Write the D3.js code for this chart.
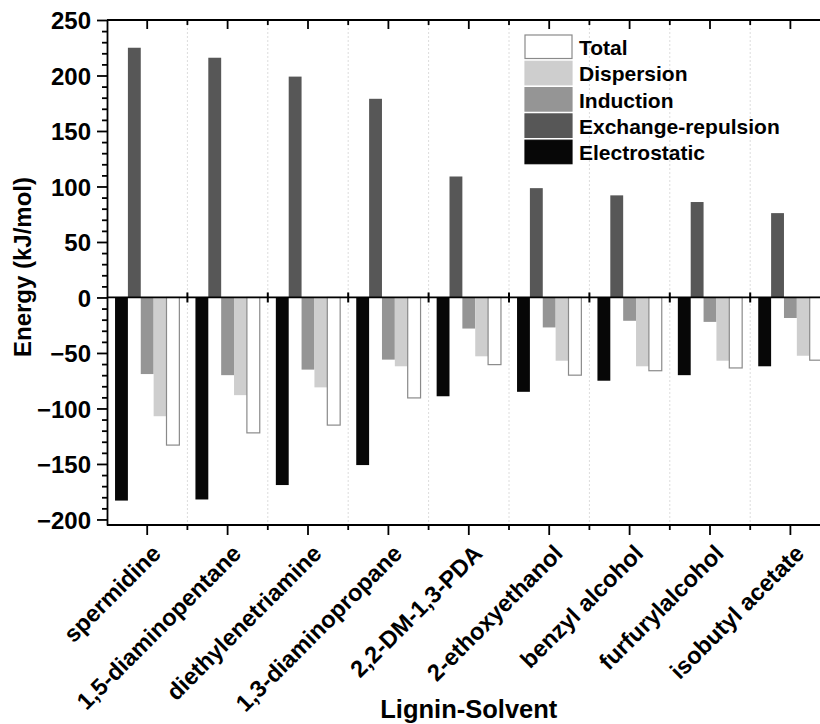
<!DOCTYPE html>
<html>
<head>
<meta charset="utf-8">
<script src="https://cdn.jsdelivr.net/npm/d3@7"></script>
<style>
  html, body { margin: 0; padding: 0; background: #fff; }
  svg { display: block; }
  text { font-family: Arial, "Liberation Sans", sans-serif; font-weight: bold; fill: #000; }
</style>
</head>
<body>
<svg id="chart" width="820" height="724"></svg>
<script>
// Lignin–solvent interaction energy decomposition (kJ/mol)
const solvents = ["spermidine", "1,5-diaminopentane", "diethylenetriamine", "1,3-diaminopropane",
  "2,2-DM-1,3-PDA", "2-ethoxyethanol", "benzyl alcohol", "furfurylalcohol", "isobutyl acetate"];

const electrostatic = [-183, -182, -169, -151, -89, -85, -75, -70, -62];
const exchangeRepulsion = [225, 216, 199, 179, 109, 98.5, 92, 86, 76];
const induction = [-69, -70, -65, -56, -28, -27, -21, -22, -18.5];
const dispersion = [-107, -88, -81, -62, -53, -57, -62, -57, -52.5];
const total = [-133, -122, -115, -90.5, -60.5, -70, -66, -63.5, -56.5];

const seriesNames = ["Electrostatic", "Exchange-repulsion", "Induction", "Dispersion", "Total"];
const seriesValues = [electrostatic, exchangeRepulsion, induction, dispersion, total];
const legendOrder = ["Total", "Dispersion", "Induction", "Exchange-repulsion", "Electrostatic"];

const yMajorTicks = [-200, -150, -100, -50, 0, 50, 100, 150, 200, 250];
const yMinorTicks = d3.range(-200, 251, 10).filter(v => v % 50 !== 0);

const fills = {
  "Electrostatic": "#070707",
  "Exchange-repulsion": "#575757",
  "Induction": "#959595",
  "Dispersion": "#cecece",
  "Total": "#ffffff"
};

const svg = d3.select("#chart");
const plotLeft = 107, plotTop = 20, plotBottom = 525;
const plotRight = plotLeft + 80.4 * solvents.length;

const x = d3.scaleBand().domain(solvents).range([plotLeft, plotRight]).paddingInner(0.2).paddingOuter(0.1);
const xs = d3.scaleBand().domain(seriesNames).range([0, x.bandwidth()]);
const y = d3.scaleLinear().domain([-205, 250]).range([plotBottom, plotTop]);
const step = x.step();
const centers = solvents.map(s => x(s) + x.bandwidth() / 2);
const bounds = d3.range(1, solvents.length).map(i => plotLeft + step * i);

// dotted vertical grid at category boundaries
svg.append("g").selectAll("line").data(bounds).join("line")
  .attr("x1", d => d).attr("x2", d => d)
  .attr("y1", plotTop).attr("y2", plotBottom)
  .attr("stroke", "#dcdcdc").attr("stroke-width", 1).attr("stroke-dasharray", "2,2");

// bars
const rows = [];
solvents.forEach((s, i) => seriesNames.forEach((n, j) => rows.push({ s, n, v: seriesValues[j][i] })));
svg.append("g").selectAll("rect").data(rows).join("rect")
  .attr("x", d => x(d.s) + xs(d.n))
  .attr("width", xs.bandwidth())
  .attr("y", d => y(Math.max(0, d.v)))
  .attr("height", d => Math.abs(y(d.v) - y(0)))
  .attr("fill", d => fills[d.n])
  .attr("stroke", d => d.n === "Total" ? "#8a8a8a" : "none")
  .attr("stroke-width", 1.2);

// zero line with boundary ticks
svg.append("line").attr("x1", plotLeft).attr("x2", plotRight).attr("y1", y(0)).attr("y2", y(0))
  .attr("stroke", "#000").attr("stroke-width", 1.8);
svg.append("g").selectAll("line").data(bounds).join("line")
  .attr("x1", d => d).attr("x2", d => d)
  .attr("y1", y(0) - 5).attr("y2", y(0) + 5)
  .attr("stroke", "#000").attr("stroke-width", 2);

// left axis
const yAxis = svg.append("g").attr("transform", `translate(${plotLeft},0)`)
  .call(d3.axisLeft(y).tickValues(yMajorTicks).tickSize(10).tickPadding(6).tickSizeOuter(0));
yAxis.selectAll("text").style("font-size", "24px").attr("dy", "0.36em");
svg.append("g").attr("transform", `translate(${plotLeft},0)`)
  .call(d3.axisLeft(y).tickValues(yMinorTicks).tickSize(5).tickFormat("").tickSizeOuter(0))
  .select(".domain").remove();

// bottom axis
const bx = svg.append("g").attr("transform", `translate(0,${plotBottom})`);
bx.append("line").attr("x1", plotLeft).attr("x2", plotRight).attr("stroke", "#000").attr("stroke-width", 1.8);
bx.selectAll(".maj").data(centers).join("line").attr("class", "maj")
  .attr("x1", d => d).attr("x2", d => d).attr("y1", 0).attr("y2", 10).attr("stroke", "#000").attr("stroke-width", 1.8);
bx.selectAll(".min").data(bounds).join("line").attr("class", "min")
  .attr("x1", d => d).attr("x2", d => d).attr("y1", 0).attr("y2", 5).attr("stroke", "#000").attr("stroke-width", 1.8);

// top axis (ticks inward)
const tx = svg.append("g").attr("transform", `translate(0,${plotTop})`);
tx.append("line").attr("x1", plotLeft).attr("x2", plotRight).attr("stroke", "#000").attr("stroke-width", 1.8);
tx.selectAll(".maj").data(centers).join("line").attr("class", "maj")
  .attr("x1", d => d).attr("x2", d => d).attr("y1", 0).attr("y2", 9).attr("stroke", "#000").attr("stroke-width", 1.8);
tx.selectAll(".min").data(bounds).join("line").attr("class", "min")
  .attr("x1", d => d).attr("x2", d => d).attr("y1", 0).attr("y2", 5).attr("stroke", "#000").attr("stroke-width", 1.8);

svg.selectAll(".domain").attr("stroke-width", 1.8);
svg.selectAll(".tick line").attr("stroke-width", 1.8);

// rotated category labels
svg.append("g").selectAll("text").data(solvents).join("text")
  .attr("transform", (d, i) => `translate(${centers[i] + 15},555) rotate(-45)`)
  .attr("text-anchor", "end")
  .style("font-size", "23.5px")
  .text(d => d);

// axis titles
svg.append("text").attr("x", (plotLeft + plotRight) / 2).attr("y", 718)
  .attr("text-anchor", "middle").style("font-size", "25.5px").text("Lignin-Solvent");
svg.append("text").attr("transform", "translate(31,267) rotate(-90)")
  .attr("text-anchor", "middle").style("font-size", "24px").text("Energy (kJ/mol)");

// legend
const lg = svg.append("g").attr("transform", "translate(525,35)");
legendOrder.forEach((n, i) => {
  const g = lg.append("g").attr("transform", `translate(0,${i * 26.3})`);
  g.append("rect").attr("width", 47).attr("height", 23.5)
    .attr("fill", fills[n]).attr("stroke", n === "Total" ? "#8a8a8a" : fills[n]).attr("stroke-width", 1.2);
  g.append("text").attr("x", 54).attr("y", 20).style("font-size", "21px").text(n);
});
</script>
</body>
</html>
